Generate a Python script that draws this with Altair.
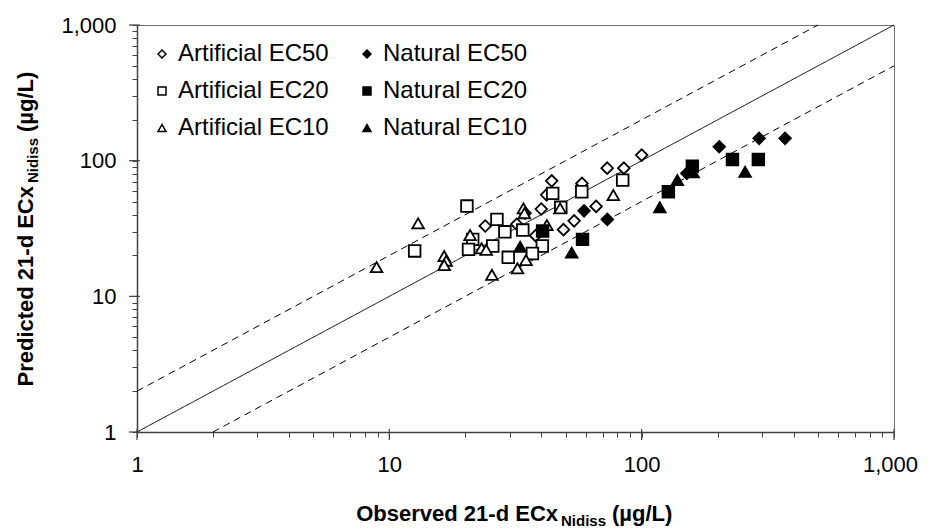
import altair as alt
import pandas as pd

# ---------------- data ----------------
art50_obs = [100, 73, 85, 44, 58, 42, 40, 66, 54, 49, 32, 38, 24, 34.5]
art50_pred = [110, 88, 88, 71, 68, 56, 44, 46, 36, 31, 34, 28, 33, 41]

art20_obs = [20.3, 12.6, 26.7, 28.7, 21.4, 20.6, 25.7, 29.6, 33.8, 40.4, 36.9, 44.4, 47.8, 57.9, 84.1]
art20_pred = [46.3, 21.6, 36.9, 29.9, 26.3, 22.2, 23.5, 19.4, 30.8, 23.5, 20.7, 57.4, 45.3, 59, 71.9]

art10_obs = [8.9, 13.0, 16.5, 16.8, 16.5, 20.9, 23.2, 24.2, 25.5, 34.0, 34.3, 42.1, 47.5, 77.2, 34.8, 32.2]
art10_pred = [16.4, 34.5, 19.8, 18.3, 17.0, 28.3, 22.6, 22.0, 14.4, 44.5, 41, 33.5, 44.5, 55.8, 18.5, 16.1]

nat50_obs = [59.1, 73.1, 151, 203, 292, 370]
nat50_pred = [42.7, 36.9, 80.6, 126.6, 146, 146]

nat20_obs = [40.5, 58.3, 127.6, 158.8, 229, 290]
nat20_pred = [30.3, 26.3, 59, 91.2, 102, 102]

nat10_obs = [33, 52.8, 118, 138.5, 160, 257]
nat10_pred = [23.2, 21, 45.3, 71.9, 82, 82.8]

# legend is filled column by column: artificial column, then natural column
series_order = ["Artificial EC50", "Artificial EC20", "Artificial EC10",
                "Natural EC50", "Natural EC20", "Natural EC10"]
series_shapes = ["diamond", "square", "triangle-up", "diamond", "square", "triangle-up"]
series_fills = ["white", "white", "white", "black", "black", "black"]
series_strokes = ["black"] * 6

# reference lines (1:1, factor-2 bands)
line_names = ["1:1", "1:1", "x2", "x2", "x0.5", "x0.5"]
line_obs = [1, 1000, 1, 500, 2, 1000]
line_pred = [1, 1000, 2, 1000, 1, 500]

decades = [1, 10, 100, 1000]
tick_values = [m * d for d in [1, 10, 100] for m in range(1, 10)] + [1000]

x_title_parts = ["Observed 21-d ECx", "Nidiss", "(µg/L)"]
y_title_parts = ["Predicted 21-d ECx", "Nidiss", "(µg/L)"]

# ---------------- tables ----------------
rows = []
for name, xs, ys in [
    ("Artificial EC50", art50_obs, art50_pred),
    ("Artificial EC20", art20_obs, art20_pred),
    ("Artificial EC10", art10_obs, art10_pred),
    ("Natural EC50", nat50_obs, nat50_pred),
    ("Natural EC20", nat20_obs, nat20_pred),
    ("Natural EC10", nat10_obs, nat10_pred),
]:
    for a, b in zip(xs, ys):
        rows.append({"series": name, "obs": a, "pred": b})
pts = pd.DataFrame(rows)
lines = pd.DataFrame({"line": line_names, "obs": line_obs, "pred": line_pred})
dec = pd.DataFrame({"obs": decades, "pred": decades})
one = pd.DataFrame({"a": [0]})

W, H = 757, 407
FONT = "Liberation Sans"

xscale = alt.Scale(type="log", domain=[1, 1000], nice=False)
yscale = alt.Scale(type="log", domain=[1, 1000], nice=False)

label_expr = ("(datum.value == 1 || datum.value == 10 || datum.value == 100 || "
              "datum.value == 1000) ? format(datum.value, ',') : ''")

xaxis = alt.Axis(values=tick_values, labelExpr=label_expr, title=None,
                 labelFlush=False, labelOverlap=False, labelPadding=17,
                 labelOffset={"condition": {"test": "datum.value == 1000", "value": -4}, "value": 0},
                 tickSize=5, grid=False)
yaxis = alt.Axis(values=tick_values, labelExpr=label_expr, title=None,
                 labelOverlap=False, labelPadding=16, tickSize=5, grid=False)

X = alt.X("obs:Q", scale=xscale, axis=xaxis)
Y = alt.Y("pred:Q", scale=yscale, axis=yaxis)

ref_lines = alt.Chart(lines).mark_line(color="black", strokeWidth=1).encode(
    x=X, y=Y,
    detail="line:N",
    strokeDash=alt.StrokeDash("line:N",
                              scale=alt.Scale(domain=["1:1", "x2", "x0.5"],
                                              range=[[1, 0], [7, 5], [7, 5]]),
                              legend=None),
)

leg = alt.Legend(title=None, orient="none", legendX=13, legendY=17, columns=2,
                 symbolSize=64, symbolStrokeWidth=1.5,
                 labelFont=FONT, labelFontSize=24, labelColor="black",
                 labelOffset=4, rowPadding=13, columnPadding=26, labelLimit=300)

points = alt.Chart(pts).mark_point(filled=True, strokeWidth=1.8,
                                   size=135, opacity=1).encode(
    x=X, y=Y,
    shape=alt.Shape("series:N", scale=alt.Scale(domain=series_order, range=series_shapes), legend=leg),
    fill=alt.Fill("series:N", scale=alt.Scale(domain=series_order, range=series_fills), legend=leg),
    stroke=alt.Stroke("series:N", scale=alt.Scale(domain=series_order, range=series_strokes), legend=leg),
)

xmajor = alt.Chart(dec).mark_rule(color="#404040", strokeWidth=1.2).encode(
    x=X, y=alt.value(H - 3), y2=alt.value(H + 8),
)
ymajor = alt.Chart(dec).mark_rule(color="#404040", strokeWidth=1.2).encode(
    y=Y, x=alt.value(-8), x2=alt.value(3),
)

# composite axis titles with subscript
TF, SF = 22, 15
xt1 = alt.Chart(one).mark_text(text=x_title_parts[0], font=FONT, fontSize=TF, fontWeight="bold",
                               align="right", baseline="alphabetic", color="black").encode(
    x=alt.value(421), y=alt.value(496))
xt2 = alt.Chart(one).mark_text(text=x_title_parts[1], font=FONT, fontSize=SF, fontWeight="bold",
                               align="left", baseline="alphabetic", color="black").encode(
    x=alt.value(424), y=alt.value(501))
xt3 = alt.Chart(one).mark_text(text=x_title_parts[2], font=FONT, fontSize=TF, fontWeight="bold",
                               align="left", baseline="alphabetic", color="black").encode(
    x=alt.value(475), y=alt.value(496))

yt1 = alt.Chart(one).mark_text(text=y_title_parts[0], font=FONT, fontSize=TF, fontWeight="bold",
                               align="right", baseline="alphabetic", angle=270, color="black").encode(
    x=alt.value(-104), y=alt.value(161))
yt2 = alt.Chart(one).mark_text(text=y_title_parts[1], font=FONT, fontSize=SF, fontWeight="bold",
                               align="left", baseline="alphabetic", angle=270, color="black").encode(
    x=alt.value(-99), y=alt.value(158))
yt3 = alt.Chart(one).mark_text(text=y_title_parts[2], font=FONT, fontSize=TF, fontWeight="bold",
                               align="left", baseline="alphabetic", angle=270, color="black").encode(
    x=alt.value(-104), y=alt.value(107))

chart = alt.layer(ref_lines, points, xmajor, ymajor, xt1, xt2, xt3, yt1, yt2, yt3).properties(
    width=W, height=H,
    autosize=alt.AutoSizeParams(type="none"),
    padding={"left": 129, "top": 17, "right": 26, "bottom": 99},
    background="white",
).configure_view(
    stroke="#707070", strokeWidth=1
).configure_axis(
    labelFont=FONT, labelFontSize=22, labelColor="black",
    domainColor="#404040", domainWidth=1.5, tickColor="#404040", tickWidth=1,
)

chart.save("out.html", embed_options={"renderer": "svg", "actions": False})
